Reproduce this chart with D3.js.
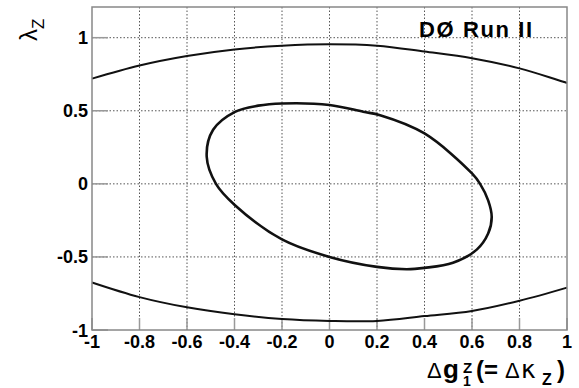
<!DOCTYPE html>
<html>
<head>
<meta charset="utf-8">
<script src="https://cdn.jsdelivr.net/npm/d3@7"></script>
<style>
  body { margin: 0; background: #fff; }
  text { font-family: "Liberation Sans", Arial, sans-serif; }
</style>
</head>
<body>
<div id="chart"></div>
<script>
const margin = { top: 7, right: 12, bottom: 58, left: 92 };
const width = 579 - margin.left - margin.right;
const height = 388 - margin.top - margin.bottom;

// tick labels
const xTicks = [-1, -0.8, -0.6, -0.4, -0.2, 0, 0.2, 0.4, 0.6, 0.8, 1];
const yTicks = [-1, -0.5, 0, 0.5, 1];

// outer band, read at x = -1 .. 1
const bandX = [-1, -0.8, -0.6, -0.4, -0.2, 0, 0.2, 0.4, 0.6, 0.8, 1];
const upperBand = [0.72, 0.81, 0.875, 0.92, 0.945, 0.955, 0.945, 0.905, 0.86, 0.79, 0.69];
const lowerBand = [-0.675, -0.775, -0.845, -0.893, -0.925, -0.938, -0.938, -0.905, -0.87, -0.80, -0.71];

// inner contour, points (clockwise from top)
const ellipseX = [-0.2, 0.0, 0.142, 0.213, 0.4, 0.6, 0.634, 0.668, 0.683, 0.668, 0.62, 0.52, 0.4, 0.325, 0.2, 0.0, -0.2, -0.398, -0.478, -0.517, -0.49, -0.398, -0.3];
const ellipseY = [0.55, 0.54, 0.493, 0.47, 0.345, 0.071, 0.0, -0.113, -0.226, -0.34, -0.45, -0.54, -0.575, -0.584, -0.568, -0.5, -0.38, -0.146, 0.0, 0.185, 0.37, 0.493, 0.535];

const svg = d3.select("#chart")
    .append("svg")
    .attr("width", 579)
    .attr("height", 388);

const g = svg.append("g")
    .attr("transform", `translate(${margin.left},${margin.top})`);

const x = d3.scaleLinear().domain([-1, 1]).range([0, width]);
const y = d3.scaleLinear().domain([-1, 1.21]).range([height, 0]);

// grid
g.selectAll(".gx")
    .data(xTicks.filter(d => d > -1 && d < 1))
    .enter().append("line")
    .attr("x1", d => x(d)).attr("x2", d => x(d))
    .attr("y1", 0).attr("y2", height)
    .attr("stroke", "#555")
    .attr("stroke-width", 1)
    .attr("stroke-dasharray", "1.5,2");

g.selectAll(".gy")
    .data(yTicks.filter(d => d > -1))
    .enter().append("line")
    .attr("x1", 0).attr("x2", width)
    .attr("y1", d => y(d)).attr("y2", d => y(d))
    .attr("stroke", "#555")
    .attr("stroke-width", 1)
    .attr("stroke-dasharray", "1.5,2");

// ticks inside the frame
g.selectAll(".tx")
    .data(xTicks)
    .enter().append("line")
    .attr("x1", d => x(d)).attr("x2", d => x(d))
    .attr("y1", height).attr("y2", height - 12)
    .attr("stroke", "#999")
    .attr("stroke-width", 1.5);

g.selectAll(".ty")
    .data(yTicks)
    .enter().append("line")
    .attr("x1", 0).attr("x2", 16)
    .attr("y1", d => y(d)).attr("y2", d => y(d))
    .attr("stroke", "#999")
    .attr("stroke-width", 1.5);

// curves
const line = d3.line()
    .x(d => x(d[0]))
    .y(d => y(d[1]))
    .curve(d3.curveCatmullRom);

g.append("path")
    .datum(bandX.map((v, i) => [v, upperBand[i]]))
    .attr("d", line)
    .attr("fill", "none")
    .attr("stroke", "#111")
    .attr("stroke-width", 2);

g.append("path")
    .datum(bandX.map((v, i) => [v, lowerBand[i]]))
    .attr("d", line)
    .attr("fill", "none")
    .attr("stroke", "#111")
    .attr("stroke-width", 2);

g.append("path")
    .datum(ellipseX.map((v, i) => [v, ellipseY[i]]))
    .attr("d", d3.line()
        .x(d => x(d[0]))
        .y(d => y(d[1]))
        .curve(d3.curveCatmullRomClosed))
    .attr("fill", "none")
    .attr("stroke", "#111")
    .attr("stroke-width", 2.6);

// frame
g.append("rect")
    .attr("x", 0).attr("y", 0)
    .attr("width", width).attr("height", height)
    .attr("fill", "none")
    .attr("stroke", "#888")
    .attr("stroke-width", 1.5);

// tick labels
g.selectAll(".lx")
    .data(xTicks)
    .enter().append("text")
    .attr("x", d => x(d))
    .attr("y", height + 18)
    .attr("text-anchor", "middle")
    .style("font-size", "18px")
    .style("font-weight", "bold")
    .text(d => d);

g.selectAll(".ly")
    .data(yTicks)
    .enter().append("text")
    .attr("x", -4)
    .attr("y", d => y(d) + 6.5)
    .attr("text-anchor", "end")
    .style("font-size", "18px")
    .style("font-weight", "bold")
    .text(d => d);

// D0 label
svg.append("text")
    .attr("x", 419)
    .attr("y", 37)
    .attr("textLength", 113)
    .style("font-size", "22px")
    .style("font-weight", "bold")
    .text("DØ Run II");

// y title
const yt = svg.append("text")
    .attr("transform", "translate(37,41)rotate(-90)")
    .style("font-size", "24px");
yt.append("tspan").text("λ");
yt.append("tspan").attr("dy", 7).style("font-size", "17px").text("Z");

// x title
const xt = svg.append("g");
const base = 378;
xt.append("text").attr("x", 427).attr("y", base).style("font-size", "22px").text("Δ");
xt.append("text").attr("x", 443).attr("y", base).style("font-size", "26px").style("font-weight", "bold").text("g");
xt.append("text").attr("x", 463).attr("y", 373).style("font-size", "15px").style("font-weight", "bold").text("Z");
xt.append("text").attr("x", 463).attr("y", 386).style("font-size", "14px").style("font-weight", "bold").text("1");
xt.append("text").attr("x", 476).attr("y", base).style("font-size", "24px").style("font-weight", "bold").text("(=");
xt.append("text").attr("x", 505).attr("y", base).style("font-size", "22px").text("Δ");
xt.append("text").attr("x", 521).attr("y", base).style("font-family", "'DejaVu Sans', sans-serif").style("font-size", "25px").text("κ");
xt.append("text").attr("x", 542).attr("y", 385).style("font-size", "16px").style("font-weight", "bold").text("Z");
xt.append("text").attr("x", 557).attr("y", base).style("font-size", "24px").style("font-weight", "bold").text(")");
</script>
</body>
</html>
